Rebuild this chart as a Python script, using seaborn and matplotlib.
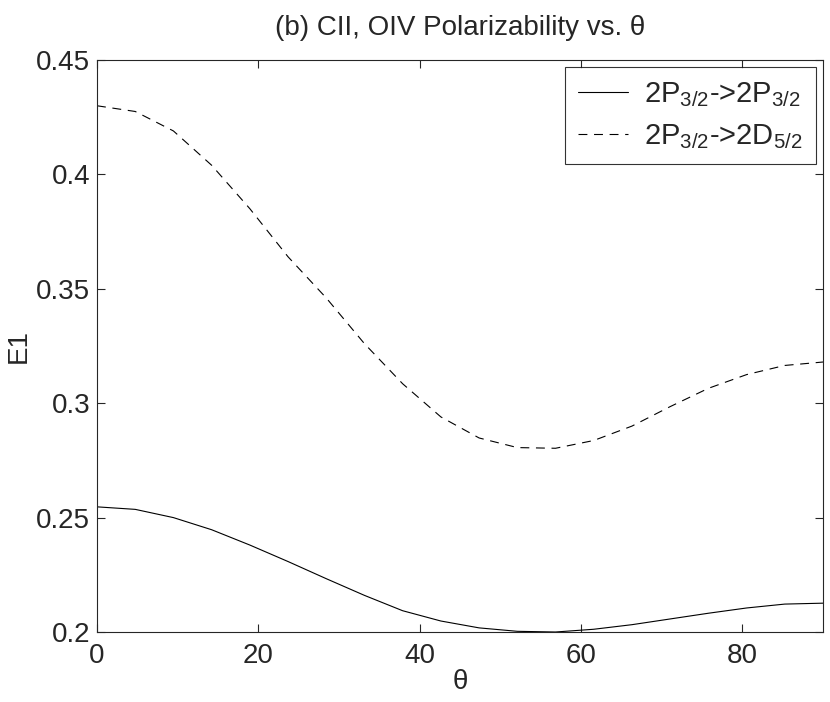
import pandas as pd
import matplotlib
matplotlib.use("Agg")
import matplotlib.pyplot as plt
import seaborn as sns

# angle samples (deg) and the two E1 curves
theta = [0, 4.74, 9.47, 14.21, 18.95, 23.68, 28.42, 33.16, 37.89, 42.63,
         47.37, 52.11, 56.84, 61.58, 66.32, 71.05, 75.79, 80.53, 85.26, 90]
e1_pp = [0.2547, 0.2536, 0.2500, 0.2447, 0.2380, 0.2308, 0.2233, 0.2160, 0.2093, 0.2048,
         0.2018, 0.2003, 0.2000, 0.2012, 0.2032, 0.2057, 0.2082, 0.2105, 0.2122, 0.2126]
e1_pd = [0.4300, 0.4275, 0.4190, 0.4040, 0.3850, 0.3640, 0.3460, 0.3260, 0.3085, 0.2940,
         0.2848, 0.2806, 0.2803, 0.2837, 0.2900, 0.2985, 0.3065, 0.3125, 0.3165, 0.3180]
labels = [r"2P$_\mathrm{3/2}$->2P$_\mathrm{3/2}$", r"2P$_\mathrm{3/2}$->2D$_\mathrm{5/2}$"]
xticks = [0, 20, 40, 60, 80]
yticks = [0.2, 0.25, 0.3, 0.35, 0.4, 0.45]

sns.set_style("ticks")
plt.rcParams["font.family"] = ["Liberation Sans", "DejaVu Sans"]
plt.rcParams["mathtext.fontset"] = "custom"
plt.rcParams["mathtext.rm"] = "Liberation Sans"

df = pd.DataFrame({
    "theta": theta * 2,
    "E1": e1_pp + e1_pd,
    "transition": [labels[0]] * len(theta) + [labels[1]] * len(theta),
})

fig = plt.figure(figsize=(8.3, 7.02), dpi=100)
ax = fig.add_axes([97 / 830, 1 - 632 / 702, 726 / 830, 572 / 702])

sns.lineplot(data=df, x="theta", y="E1", style="transition", color="black",
             dashes={labels[0]: "", labels[1]: (8, 6)}, linewidth=0.8, ax=ax)

ax.set_xlim(0, 90)
ax.set_ylim(0.2, 0.45)
ax.set_xticks(xticks)
ax.set_xticklabels([str(t) for t in xticks])
ax.set_yticks(yticks)
ax.set_yticklabels(["0.2", "0.25", "0.3", "0.35", "0.4", "0.45"])
ax.tick_params(direction="in", length=5.5, width=0.8, labelsize=20,
               top=True, right=True)
ax.tick_params(axis="x", pad=8)
ax.tick_params(axis="y", pad=5)
for s in ax.spines.values():
    s.set_linewidth(0.8)
    s.set_visible(True)

ax.set_xlabel("θ", fontsize=20, labelpad=0)
ax.set_ylabel("E1", fontsize=20, labelpad=3)
ax.set_title("(b) CII, OIV Polarizability vs. θ", fontsize=20, pad=18)

leg = ax.legend(loc="upper right", fontsize=21, frameon=True, fancybox=False,
                edgecolor="black", handlelength=1.7, borderaxespad=0.25,
                labelspacing=0.45, borderpad=0.45, handletextpad=0.55)
leg.get_frame().set_linewidth(0.8)
leg.set_title(None)

fig.savefig("out.png", dpi=100)
